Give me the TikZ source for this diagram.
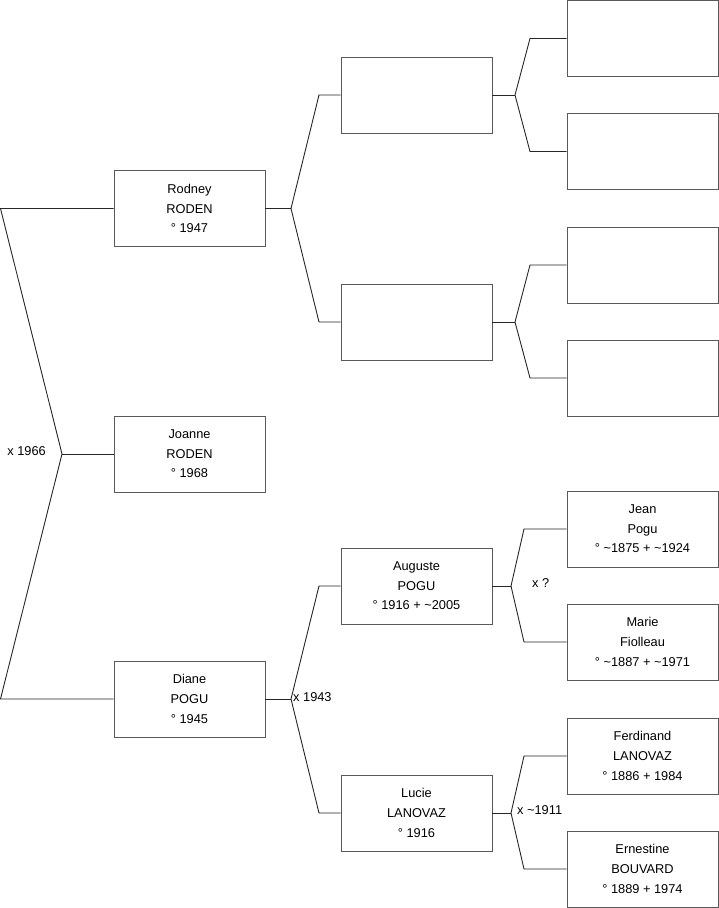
\documentclass[tikz,border=0pt]{standalone}
\usepackage{fontspec}
\setmainfont{Liberation Sans}
\begin{document}
\begin{tikzpicture}[x=1pt,y=-1pt,
  person/.style={draw=black!65,line width=0.9pt,fill=white,minimum width=151pt,minimum height=76pt,inner sep=0pt,align=center,font=\fontsize{12.8}{19.6}\selectfont},
  link/.style={draw=black!85,line width=0.9pt},
  marr/.style={font=\fontsize{12.8}{14}\selectfont,inner sep=0pt}]
\useasboundingbox (0,0) rectangle (719,908);
% generation 1
\node[person] (rodney) at (189.5,208.5) {Rodney\\RODEN\\° 1947};
\node[person] (joanne) at (189.5,454) {Joanne\\RODEN\\° 1968};
\node[person] (diane)  at (189.5,699) {Diane\\POGU\\° 1945};
% generation 2
\node[person] (rf) at (416.5,95) {};
\node[person] (rm) at (416.5,322) {};
\node[person] (auguste) at (416.5,586) {Auguste\\POGU\\° 1916 + \textasciitilde2005};
\node[person] (lucie) at (416.5,813) {Lucie\\LANOVAZ\\° 1916};
% generation 3
\node[person] (rff) at (642.5,38.5) {};
\node[person] (rfm) at (642.5,151.5) {};
\node[person] (rmf) at (642.5,265) {};
\node[person] (rmm) at (642.5,378) {};
\node[person] (jean) at (642.5,529) {Jean\\Pogu\\° \textasciitilde1875 + \textasciitilde1924};
\node[person] (marie) at (642.5,642) {Marie\\Fiolleau\\° \textasciitilde1887 + \textasciitilde1971};
\node[person] (ferdinand) at (642.5,756) {Ferdinand\\LANOVAZ\\° 1886 + 1984};
\node[person] (ernestine) at (642.5,869) {Ernestine\\BOUVARD\\° 1889 + 1974};
% junction coordinates
\coordinate (l1) at (0.5,208.5);
\coordinate (a1) at (62,454);
\coordinate (l2) at (0.5,699);
\coordinate (a2) at (291,208.5);
\coordinate (u2) at (319,95);
\coordinate (d2) at (319,322);
\coordinate (a3) at (291,699);
\coordinate (u3) at (319,586);
\coordinate (d3) at (319,813);
\coordinate (a4) at (515,95);
\coordinate (u4) at (530,38.5);
\coordinate (d4) at (530,151.5);
\coordinate (a5) at (515,322);
\coordinate (u5) at (530,265);
\coordinate (d5) at (530,378);
\coordinate (a6) at (511,586);
\coordinate (u6) at (524,529);
\coordinate (d6) at (524,642);
\coordinate (a7) at (511,813);
\coordinate (u7) at (524,756);
\coordinate (d7) at (524,869);
% connectors
\draw[link] (rodney.west) -- (l1) -- (a1) -- (l2) -- (diane.west);
\draw[link] (a1) -- (joanne.west);
\draw[link] (rodney.east) -- (a2);
\draw[link] (rf.west) -- (u2) -- (a2) -- (d2) -- (rm.west);
\draw[link] (diane.east) -- (a3);
\draw[link] (auguste.west) -- (u3) -- (a3) -- (d3) -- (lucie.west);
\draw[link] (rf.east) -- (a4);
\draw[link] (rff.west) -- (u4) -- (a4) -- (d4) -- (rfm.west);
\draw[link] (rm.east) -- (a5);
\draw[link] (rmf.west) -- (u5) -- (a5) -- (d5) -- (rmm.west);
\draw[link] (auguste.east) -- (a6);
\draw[link] (jean.west) -- (u6) -- (a6) -- (d6) -- (marie.west);
\draw[link] (lucie.east) -- (a7);
\draw[link] (ferdinand.west) -- (u7) -- (a7) -- (d7) -- (ernestine.west);
% marriage labels
\node[marr,anchor=east] (m1) at (46,451) {x 1966};
\node[marr,anchor=west] (m2) at (293,697) {x 1943};
\node[marr,anchor=west] (m3) at (532,583) {x ?};
\node[marr,anchor=west] (m4) at (517,810) {x \textasciitilde1911};
\end{tikzpicture}
\end{document}
